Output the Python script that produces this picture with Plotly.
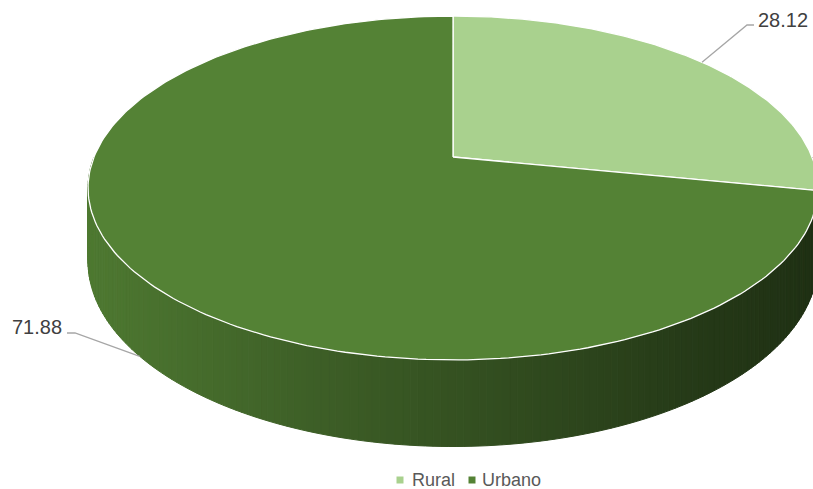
import numpy as np
import plotly.graph_objects as go

# ---- data ----
categories = ["Rural", "Urbano"]
values = [28.12, 71.88]
top_colors = ["#A9D18E", "#548235"]
label_texts = ["28.12", "71.88"]

# ---- geometry / style (3D perspective pie) ----
W, HGT = 813, 489
CX, CY = 453, 157          # projected pie centre (pixels)
A, B, K = 359, 166.4, 0.18  # horizontal radius, vertical radius, perspective factor
DEPTH = 71                  # side wall height
SHADE_X = [86, 300, 500, 700, 813]
SHADE_F = [0.93, 0.74, 0.59, 0.44, 0.37]
FONT = "Liberation Sans, Arial"


def proj(theta_deg, drop=0.0):
    t = np.radians(theta_deg)
    s = 1.0 / (1.0 + K * np.cos(t))
    x = CX + A * np.sin(t) * s
    y = CY - B * np.cos(t) * s + drop * s
    return x, y


def hex_rgb(h):
    h = h.lstrip("#")
    return [int(h[i:i + 2], 16) for i in (0, 2, 4)]


def shade(col, x):
    f = float(np.interp(x, SHADE_X, SHADE_F))
    r, g, b = [max(0, min(255, int(round(c * f)))) for c in hex_rgb(col)]
    return f"rgb({r},{g},{b})"


total = sum(values)
bounds = np.concatenate([[0], np.cumsum(values) / total * 360.0])

fig = go.Figure()

# ---- side walls (front half, 90..270 deg), shaded strips ----
for i, col in enumerate(top_colors):
    a0, a1 = max(bounds[i], 90.0), min(bounds[i + 1], 270.0)
    if a1 <= a0:
        continue
    n = max(2, int((a1 - a0) / 1.0))
    th = np.linspace(a0, a1, n + 1)
    for j in range(n):
        sub = np.linspace(th[j], th[j + 1], 3)
        xt, yt = proj(sub)
        xb, yb = proj(sub[::-1], DEPTH)
        xs = np.concatenate([xt, xb, xt[:1]])
        ys = np.concatenate([yt, yb, yt[:1]])
        c = shade(col, float(np.mean(xt)))
        fig.add_trace(go.Scatter(x=xs, y=ys, mode="lines", fill="toself",
                                 fillcolor=c, line=dict(color=c, width=1),
                                 hoverinfo="skip", showlegend=False))

# ---- top faces ----
for i, (cat, col) in enumerate(zip(categories, top_colors)):
    th = np.linspace(bounds[i], bounds[i + 1], 240)
    xa, ya = proj(th)
    xs = np.concatenate([[CX], xa, [CX]])
    ys = np.concatenate([[CY], ya, [CY]])
    fig.add_trace(go.Scatter(x=xs, y=ys, mode="lines", fill="toself", name=cat,
                             fillcolor=col, line=dict(color="white", width=1.3),
                             hoverinfo="skip", showlegend=False))

# ---- data labels with leader lines ----
mid = (bounds[:-1] + bounds[1:]) / 2
# leader anchor: Rural on top rim, Urbano on bottom rim of the wall
anchor_drop = [0.0, DEPTH]
label_pos = [(756, 20), (64, 327)]
elbow = [(747, 25, 754, 25), (75, 333, 67, 333)]
label_anchor = ["left", "right"]
for i in range(len(categories)):
    x0, y0 = proj(mid[i], anchor_drop[i])
    ex, ey, hx, hy = elbow[i]
    fig.add_trace(go.Scatter(x=[float(x0), ex, hx], y=[float(y0), ey, hy],
                             mode="lines", line=dict(color="#A6A6A6", width=1.3),
                             hoverinfo="skip", showlegend=False))
    fig.add_annotation(x=label_pos[i][0], y=label_pos[i][1], text=label_texts[i],
                       showarrow=False, xanchor=label_anchor[i], yanchor="middle",
                       font=dict(family=FONT, size=20, color="#404040"))

# ---- legend (bottom centre) ----
legend_marker_x = [400, 472]
legend_text_x = [410, 480]
legend_y = 480
fig.add_trace(go.Scatter(x=legend_marker_x, y=[legend_y] * len(categories), mode="markers",
                         marker=dict(symbol="square", size=7, color=top_colors),
                         hoverinfo="skip", showlegend=False))
for cat, tx in zip(categories, legend_text_x):
    fig.add_annotation(x=tx, y=legend_y, text=cat, showarrow=False,
                       xanchor="left", yanchor="middle",
                       font=dict(family=FONT, size=18, color="#595959"))

fig.update_layout(
    width=W, height=HGT,
    margin=dict(l=0, r=0, t=0, b=0, autoexpand=False),
    paper_bgcolor="white", plot_bgcolor="white",
    xaxis=dict(range=[0, W], visible=False, fixedrange=True),
    yaxis=dict(range=[HGT, 0], visible=False, fixedrange=True),
    showlegend=False,
)

fig.write_html("out.html", config={"displayModeBar": False},
               post_script="document.body.style.margin='0';document.body.style.overflow='hidden';")
